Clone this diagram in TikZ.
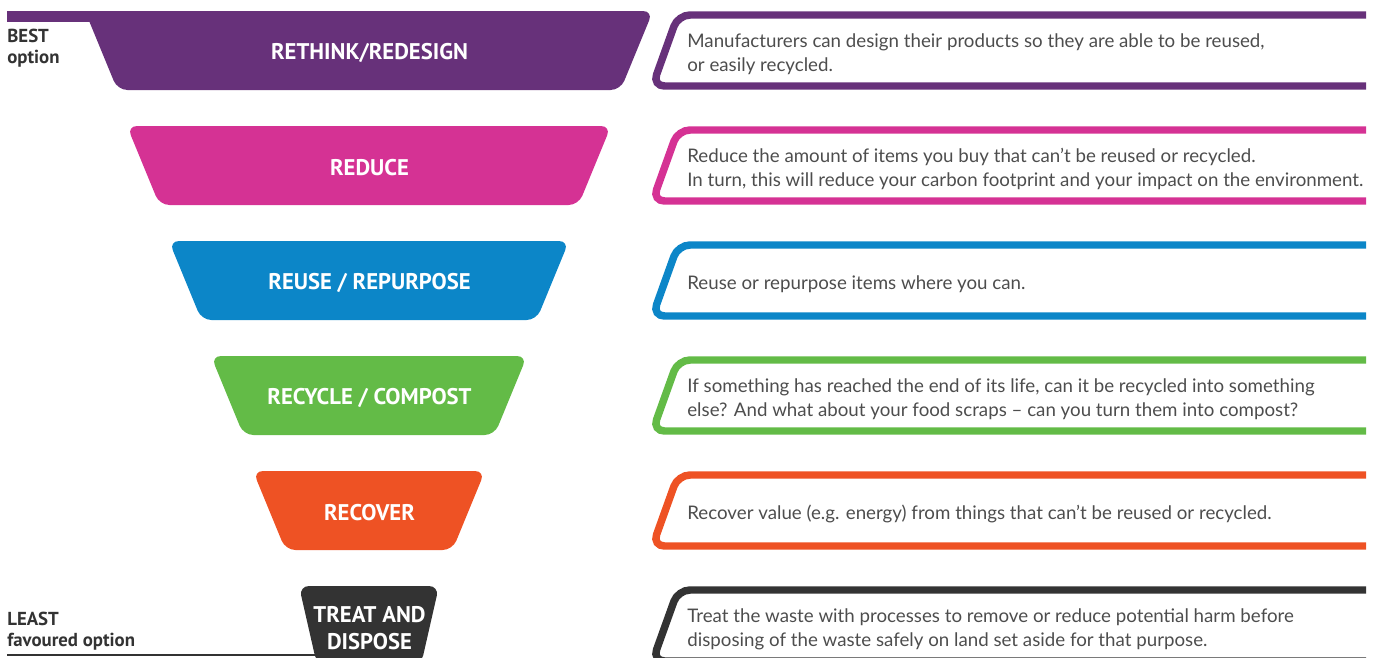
\documentclass[tikz,border=0pt]{standalone}
\usepackage{fontspec}
\setmainfont{Lato}
\newfontfamily\ptsans{PT Sans}
\definecolor{purp}{HTML}{67317A}
\definecolor{pink}{HTML}{D53294}
\definecolor{blue}{HTML}{0C86C8}
\definecolor{green}{HTML}{63BB47}
\definecolor{orange}{HTML}{EE5224}
\definecolor{dark}{HTML}{333333}
\definecolor{txtgray}{HTML}{4D4D4D}
\tikzset{
  levelbox/.style={rounded corners=0.2cm},
  levellabel/.style={font=\ptsans\bfseries\fontsize{12.9}{15.3}\selectfont,text=white,align=center,inner sep=0pt},
  descline/.style={line width=4.25pt,rounded corners=0.24cm},
  desctext/.style={anchor=west,align=left,font=\fontsize{10.65}{13.6}\selectfont,text=txtgray,inner sep=0pt},
  sidenote/.style={anchor=north west,align=left,font=\ptsans\bfseries\fontsize{10.7}{11.7}\selectfont,text=dark,inner sep=0pt}
}
\begin{document}
\begin{tikzpicture}[x=0.02cm,y=-0.02cm]
  \useasboundingbox (0,0) rectangle (1373,657);
  \fill[purp](7,11) rectangle (100,21.5);
  \draw[dark,line width=1.1pt](7,655)--(340,655);

  \foreach \i/\hw/\bw/\col/\lab/\txt in{
    0/284/251.5/purp/{RETHINK/REDESIGN}/{Manufacturers can design their products so they are able to be reused,\\or easily recycled.},
    1/242/209.5/pink/{REDUCE}/{Reduce the amount of items you buy that can’t be reused or recycled.\\In turn, this will reduce your carbon footprint and your impact on the environment.},
    2/200/167.5/blue/{REUSE / REPURPOSE}/{Reuse or repurpose items where you can.},
    3/158/125.5/green/{RECYCLE / COMPOST}/{If something has reached the end of its life, can it be recycled into something\\else? And what about your food scraps – can you turn them into compost?},
    4/116/83.5/orange/{RECOVER}/{Recover value (e.g. energy) from things that can’t be reused or recycled.},
    5/70/52/dark/{TREAT AND\\DISPOSE}/{Treat the waste with processes to remove or reduce potential harm before\\disposing of the waste safely on land set aside for that purpose.}}{
  \pgfmathsetmacro\tp{11+115*\i}
  \fill[\col,levelbox](369-\hw,\tp)--(369+\hw,\tp)--(369+\bw,\tp+79)--(369-\bw,\tp+79)--cycle;
  \node[levellabel](lvl\i) at (369.5,\tp+42){\lab};
  \draw[\col,descline](1366,\tp+4)--(678,\tp+4)--(652.5,\tp+75)--(1366,\tp+75);
  \node[desctext](desc\i) at (687,\tp+43){\txt};
  }

  \node[sidenote](best) at (7,29){BEST\\option};
  \node[sidenote](least) at (7,612){LEAST\\favoured option};
\end{tikzpicture}
\end{document}
